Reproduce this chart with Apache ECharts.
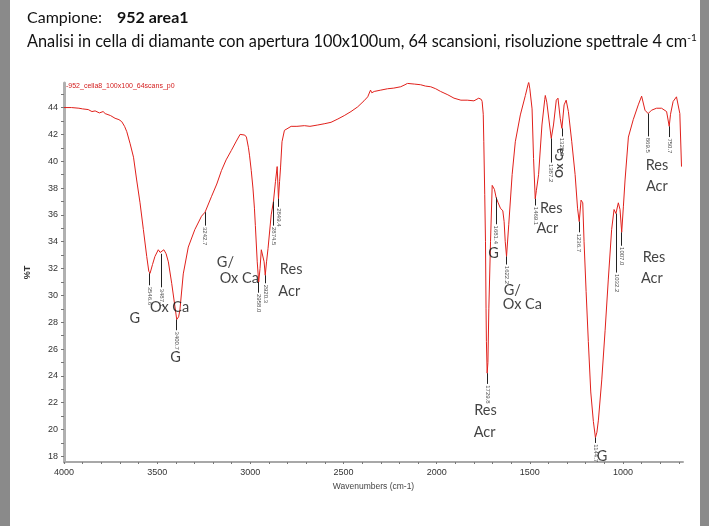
<!DOCTYPE html>
<html><head><meta charset="utf-8">
<script src="https://cdn.jsdelivr.net/npm/echarts@6/dist/echarts.min.js"></script>
<style>
html,body{margin:0;padding:0;background:#8a8a8a;}
#page{position:absolute;left:10px;top:0;width:690px;height:526px;background:#fff;}
#c{position:absolute;left:0;top:0;width:709px;height:526px;}
</style></head>
<body><div id="page"></div><div id="c"></div>
<script>
// ---- spectrum data (wavenumber cm-1, %T) ----
const wavenumbers = [4000,3960,3920,3900,3870,3850,3833,3810,3790,3779,3750,3726,3705,3690,3675,3663,3645,3627,3610,3592,3574,3556,3545,3538,3525,3512,3494,3484,3476,3464,3452,3440,3422,3405,3395,3385,3378,3360,3333,3298,3262,3243,3209,3180,3155,3130,3102,3075,3055,3045,3030,3021,3010,3004,2995,2986,2978,2973,2963,2955,2948,2941,2932,2926,2920,2913,2905,2888,2876,2865,2856,2849,2843,2838,2830,2817,2781,2750,2710,2680,2638,2600,2567,2530,2496,2460,2424,2390,2370,2355,2348,2335,2300,2264,2230,2193,2170,2157,2120,2086,2060,2032,2005,1979,1940,1907,1870,1836,1800,1774,1760,1756,1750,1747,1742,1738,1735,1733,1729,1725,1720,1711,1702,1696,1690,1681,1670,1658,1645,1638,1632,1625,1613,1595,1578,1551,1524,1510,1506,1500,1488,1480,1471,1465,1453,1435,1420,1417,1409,1394,1385,1373,1358,1349,1337,1328,1316,1305,1293,1275,1257,1244,1235,1225,1216,1209,1198,1186,1173,1159,1148,1140,1132,1114,1096,1079,1061,1048,1038,1025,1016,1007,998,989,971,945,918,900,882,865,847,820,793,766,752,745,731,713,695,686];
const transmittance = [44.0,44.0,43.95,43.9,43.85,43.7,43.75,43.6,43.7,43.55,43.4,43.2,43.1,42.95,42.6,42.2,41.3,40.3,38.6,36.9,34.9,32.9,31.8,31.65,32.3,32.9,33.4,33.2,33.1,33.4,33.1,32.5,30.9,29.2,28.2,28.4,28.9,31.6,33.6,34.9,35.9,36.2,37.35,38.3,39.3,40.1,40.8,41.5,42.0,42.1,41.95,41.8,41.0,40.4,39.3,38.0,36.5,35.2,32.5,31.0,32.0,33.4,33.3,32.5,31.5,32.5,33.5,36.0,37.0,38.5,39.6,37.2,38.5,39.5,41.45,42.3,42.6,42.6,42.65,42.6,42.7,42.8,42.9,43.15,43.4,43.7,44.05,44.5,44.8,45.3,45.1,45.2,45.3,45.4,45.45,45.55,45.7,45.8,45.75,45.7,45.6,45.55,45.4,45.2,44.95,44.7,44.55,44.55,44.5,44.7,44.6,44.45,43.5,41.45,37.5,34.0,29.0,26.55,24.2,25.0,29.0,34.0,38.2,38.1,37.9,37.3,36.9,36.5,36.3,35.5,34.0,32.9,35.3,39.0,41.45,43.45,44.9,45.7,45.9,45.4,43.9,40.2,37.2,37.8,39.0,42.7,44.6,44.9,44.4,42.7,41.7,42.7,44.55,44.7,43.2,42.45,44.2,44.55,43.7,41.45,39.0,36.5,35.5,37.1,36.9,34.0,30.3,26.55,22.8,20.6,19.4,19.8,20.7,23.7,27.4,31.15,34.9,36.4,36.1,36.9,36.4,34.7,36.6,38.6,41.8,43.1,44.2,44.85,43.8,43.55,43.8,43.95,43.95,43.7,42.6,43.5,44.45,44.8,43.55,39.6];

// ---- axis tick labels ----
const xTickLabels = [4000,3500,3000,2500,2000,1500,1000];
const yTickLabels = [18,20,22,24,26,28,30,32,34,36,38,40,42,44];

// ---- peak picks (wavenumber, %T at the pick, pick text) ----
const peakWn   = [3540,3478,3395,3243,2955,2920,2876,2849,1729,1681,1625,1471,1387,1328,1236,1148,1036,1007,865,752];
const peakT    = [31.65,33.1,28.2,36.2,31.0,31.5,37.0,37.2,24.2,37.3,32.9,37.2,41.7,42.45,35.5,19.4,36.1,34.7,43.55,42.6];
const peakText = ['3546.6','3487.7','3400.7','3242.7','2958.0','2920.3','2874.5','2849.4','1729.8','1681.4','1622.2','1469.1','1387.2','1320.0','1236.7','1144.7','1032.2','1007.0','869.5','750.7'];
const peakLead = [0.9,2.5,0.8,1.0,0.8,0.6,1.8,0.6,0.8,2.0,0.6,0.5,1.8,0.6,0.8,0.4,4.4,1.0,1.7,0.8];

// ---- assignment labels ----
const noteWn   = [3620,3433,3401,3134,3059,2781,2791,1738,1743,1695,1594,1540,1385,1406,1112,818,818,834,845];
const noteT    = [28.3,29.1,25.4,32.5,31.3,31.95,30.3,21.45,19.8,33.15,30.4,29.3,36.5,35.0,18.0,39.7,38.1,32.8,31.3];
const noteText = ['G','Ox Ca','G','G/','Ox Ca','Res','Acr','Res','Acr','G','G/','Ox Ca','Res','Acr','G','Res','Acr','Res','Acr'];
// vertical assignment label
const vNoteWn = [1343];
const vNoteT = [39.86];
const vNoteText = ['Ox Ca'];

const chart = echarts.init(document.getElementById('c'), null, {renderer:'canvas'});
const spectrum = wavenumbers.map((w,i)=>[w, transmittance[i]]);
const xTicks = []; for (let v=700; v<=4000; v+=100) xTicks.push(v);
const yTicks = []; for (let v=18; v<=45; v+=1) yTicks.push(v);
const FONT = 'Lato, "Liberation Sans", sans-serif';
const ARIAL = '"Liberation Sans", sans-serif';

chart.setOption({
  animation:false,
  backgroundColor:'transparent',
  grid:{left:64,right:26,top:83,bottom:64},
  graphic:[
    {type:'text',left:27,top:10,style:{text:'Campione:',font:'16px '+FONT,fill:'#111'}},
    {type:'text',left:117,top:10,style:{text:'952 area1',font:'bold 16px '+FONT,fill:'#111'}},
    {type:'text',left:27,top:33,style:{rich:{n:{font:'16.3px '+FONT,fill:'#111'},s:{font:'10px '+FONT,fill:'#111',verticalAlign:'top',padding:[0,0,7,0]}},text:'{n|Analisi in cella di diamante con apertura 100x100um, 64 scansioni, risoluzione spettrale 4 cm}{s|-1}'}},
    {type:'text',left:66,top:83,style:{text:'-952_cella8_100x100_64scans_p0',font:'7px '+ARIAL,fill:'#d42020'}}
  ],
  xAxis:{
    type:'value', inverse:true, min:678, max:4000,
    name:'Wavenumbers (cm-1)', nameLocation:'middle', nameGap:15,
    nameTextStyle:{fontSize:8.5,color:'#444',fontFamily:ARIAL},
    axisLine:{show:true,onZero:false,lineStyle:{color:'#a8a8a8',width:2}},
    axisTick:{show:true,customValues:xTicks,length:2,lineStyle:{color:'#777'}},
    axisLabel:{customValues:xTickLabels,formatter:v=>String(v),fontSize:9,color:'#333',margin:6,fontFamily:ARIAL},
    splitLine:{show:false}
  },
  yAxis:{
    type:'value', min:17.58, max:45.83,
    name:'%T', nameLocation:'middle', nameGap:32, nameRotate:90,
    nameTextStyle:{fontSize:9,color:'#333',fontWeight:'bold',fontFamily:ARIAL},
    axisLine:{show:true,lineStyle:{color:'#b0b0b0',width:3}},
    axisTick:{show:true,customValues:yTicks,length:3,lineStyle:{color:'#777'}},
    axisLabel:{customValues:yTickLabels,formatter:v=>String(v),fontSize:9,color:'#333',margin:6,fontFamily:ARIAL},
    splitLine:{show:false}
  },
  series:[
    {type:'line',data:spectrum,showSymbol:false,symbol:'none',lineStyle:{color:'#e0201b',width:1},z:3,
     markLine:{silent:true,symbol:['none','none'],label:{show:false},animation:false,
       lineStyle:{color:'#222',type:'solid',width:1},
       data:peakWn.map((w,i)=>[{coord:[w,peakT[i]]},{coord:[w,peakT[i]-peakLead[i]]}])}
    },
    {type:'scatter',symbolSize:0,silent:true,z:4,
     data:peakWn.map((w,i)=>({value:[w,peakT[i]-peakLead[i]-0.1],name:peakText[i]})),
     label:{show:true,position:'inside',formatter:p=>p.name,rotate:-90,align:'left',verticalAlign:'middle',
       fontSize:6,color:'#222',fontFamily:ARIAL}},
    {type:'scatter',symbolSize:0,silent:true,z:5,
     data:noteWn.map((w,i)=>({value:[w,noteT[i]],name:noteText[i]})),
     label:{show:true,position:'inside',formatter:p=>p.name,align:'center',verticalAlign:'middle',
       fontSize:14.5,color:'#111',fontFamily:FONT}},
    {type:'scatter',symbolSize:0,silent:true,z:5,
     data:vNoteWn.map((w,i)=>({value:[w,vNoteT[i]],name:vNoteText[i]})),
     label:{show:true,position:'inside',formatter:p=>p.name,rotate:90,align:'center',verticalAlign:'middle',
       fontSize:11,fontWeight:'bold',color:'#111',fontFamily:FONT}}
  ]
});
</script></body></html>
